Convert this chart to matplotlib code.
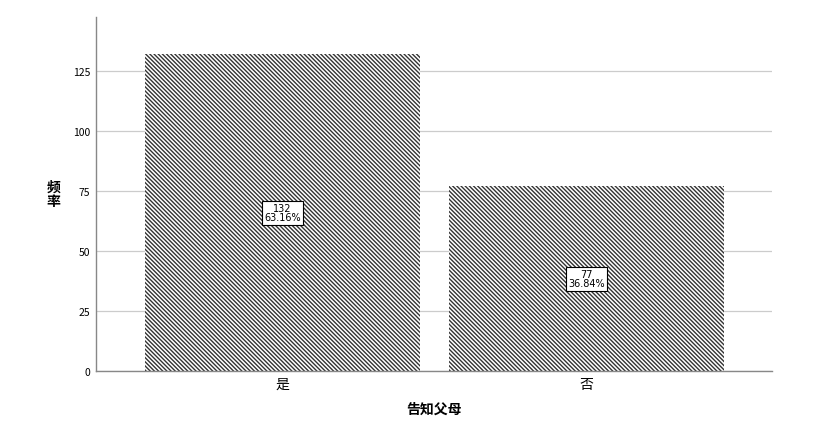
import matplotlib.pyplot as plt
import numpy as np

plt.rcParams["font.family"] = ["Noto Sans CJK SC", "DejaVu Sans"]
plt.rcParams["hatch.linewidth"] = 1.0
plt.rcParams["hatch.color"] = "#333333"

categories = ["是", "否"]
counts = [132, 77]
percents = ["63.16%", "36.84%"]
y_ticks = [0, 25, 50, 75, 100, 125]

fig = plt.figure(figsize=(8.35, 4.27), dpi=100)
ax = fig.add_axes([96 / 835, 55 / 427, 676 / 835, 354 / 427])

x = np.arange(len(categories))
ax.bar(x, counts, width=0.905, color="white", edgecolor="#333333",
       linewidth=0, hatch="\\" * 8, zorder=2)

for xi, c, p in zip(x, counts, percents):
    ax.text(xi, c / 2, f"{c}\n{p}", ha="center", va="center", fontsize=7,
            family="DejaVu Sans", linespacing=0.9, zorder=3,
            bbox=dict(boxstyle="square,pad=0.25", facecolor="white",
                      edgecolor="black", linewidth=0.8))

ax.set_xlim(-0.613, 1.61)
ax.set_ylim(0, 147.5)
ax.set_xticks(x)
ax.set_xticklabels(categories, fontsize=10)
ax.set_yticks(y_ticks)
ax.set_yticklabels([str(t) for t in y_ticks], fontsize=7.5)
ax.tick_params(axis="both", length=0)
ax.tick_params(axis="x", pad=4)
ax.tick_params(axis="y", pad=4)

ax.grid(axis="y", color="#cccccc", linewidth=0.9, zorder=0)
ax.set_axisbelow(True)

for side in ["top", "right"]:
    ax.spines[side].set_visible(False)
for side in ["left", "bottom"]:
    ax.spines[side].set_color("#888888")
    ax.spines[side].set_linewidth(1.0)

ax.set_xlabel("告知父母", fontsize=10, fontweight="bold", labelpad=8)
ax.set_ylabel("频\n率", fontsize=10, fontweight="bold", rotation=0,
              linespacing=1.0, va="center", labelpad=14)

fig.savefig("out.png", dpi=100)
